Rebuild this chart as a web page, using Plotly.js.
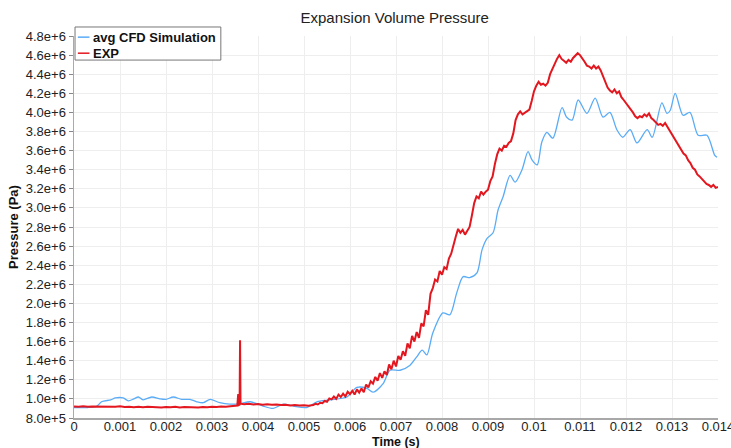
<!DOCTYPE html>
<html>
<head>
<meta charset="utf-8">
<script src="https://cdn.plot.ly/plotly-3.0.1.min.js"></script>
<style>html,body{margin:0;padding:0;background:#fff;}#chart{width:731px;height:448px;}</style>
</head>
<body>
<div id="chart"></div>
<script>
// ---- data ----
const expTime = [
0.0000,0.0001,0.0002,0.0003,0.0004,0.0005,0.0006,0.0007,0.0008,0.0009,
0.0010,0.0011,0.0012,0.0013,0.0014,0.0015,0.0016,0.0017,0.0018,0.0019,
0.0020,0.0021,0.0022,0.0023,0.0024,0.0025,0.0026,0.0027,0.0028,0.0029,
0.0030,0.0031,0.0032,0.0033,0.0034,0.0035,0.00355,0.00357,0.00358,0.0036,
0.00361,0.00362,0.0037,0.0038,0.0039,0.0040,0.0041,0.0042,0.0043,0.0044,
0.0045,0.0046,0.0047,0.0048,0.0049,0.0050,0.0051,
0.0052,0.00525,0.0053,0.00535,0.0054,0.00545,0.0055,0.00555,0.0056,0.00565,
0.0057,0.00575,0.0058,0.00585,0.0059,0.00595,0.0060,0.00605,0.0061,0.00615,
0.0062,0.00625,0.0063,0.00635,0.0064,0.00645,0.0065,0.00655,0.0066,0.00665,
0.0067,0.00675,0.0068,0.00685,0.0069,0.00695,0.0070,0.00705,0.0071,0.00715,
0.0072,0.00725,0.0073,0.00735,0.0074,0.00745,0.0075,0.00755,0.0076,0.00765,
0.0077,0.00775,0.0078,0.00785,0.0079,0.00795,0.0080,0.00805,0.0081,0.00815,
0.0082,0.00825,0.0083,0.00835,0.0084,0.00845,0.0085,0.00855,0.0086,0.00865,
0.0087,0.00875,0.0088,0.00885,0.0089,0.00895,0.0090,0.00905,0.0091,0.00915,
0.0092,0.00925,0.0093,0.00935,0.0094,0.00945,0.0095,0.00955,0.0096,0.00965,
0.0097,0.00975,0.0098,0.00985,0.0099,0.00995,0.0100,0.01005,0.0101,0.01015,
0.0102,0.01025,0.0103,0.01035,0.0104,0.01045,0.0105,0.01055,0.0106,0.01065,
0.0107,0.01075,0.0108,0.01085,0.0109,0.01095,0.0110,0.01105,0.0111,0.01115,
0.0112,0.01125,0.0113,0.01135,0.0114,0.01145,0.0115,0.01155,0.0116,0.01165,
0.0117,0.01175,0.0118,0.01185,0.0119,0.01195,0.0120,0.01205,0.0121,0.01215,
0.0122,0.01225,0.0123,0.01235,0.0124,0.01245,0.0125,0.01255,0.0126,0.01265,
0.0127,0.01275,0.0128,0.01285,0.0129,0.01295,0.0130,0.01305,0.0131,0.01315,
0.0132,0.01325,0.0133,0.01335,0.0134,0.01345,0.0135,0.01355,0.0136,0.01365,
0.0137,0.01375,0.0138,0.01385,0.0139,0.01395,0.0140
];
const expPressure = [
921000,918000,923000,917000,921000,919000,924000,916000,920000,918000,
922000,915000,919000,913000,918000,912000,917000,914000,919000,911000,
916000,913000,918000,910000,915000,912000,917000,911000,916000,913000,
919000,915000,920000,917000,923000,925000,930000,1050000,935000,940000,
1615000,950000,945000,948000,942000,946000,940000,943000,938000,941000,
935000,938000,932000,935000,930000,933000,929000,
935000,948000,942000,960000,955000,978000,970000,1005000,995000,1025000,
1000000,1045000,1020000,1055000,1025000,1075000,1050000,1085000,1045000,1100000,
1065000,1110000,1070000,1150000,1120000,1185000,1160000,1230000,1190000,1270000,
1220000,1290000,1250000,1360000,1310000,1400000,1340000,1450000,1410000,1500000,
1450000,1580000,1530000,1660000,1600000,1700000,1640000,1790000,1760000,1930000,
1880000,2100000,2160000,2250000,2230000,2340000,2300000,2380000,2360000,2470000,
2520000,2620000,2700000,2780000,2740000,2770000,2720000,2760000,2800000,2920000,
3050000,3120000,3100000,3170000,3140000,3170000,3190000,3280000,3330000,3460000,
3560000,3620000,3600000,3650000,3640000,3680000,3700000,3780000,3920000,3980000,
4010000,3980000,4000000,4020000,4030000,4120000,4220000,4280000,4320000,4290000,
4300000,4280000,4310000,4400000,4460000,4520000,4560000,4600000,4560000,4540000,
4520000,4550000,4530000,4570000,4590000,4620000,4600000,4570000,4530000,4490000,
4480000,4460000,4490000,4460000,4480000,4440000,4380000,4330000,4260000,4230000,
4210000,4240000,4200000,4220000,4160000,4130000,4100000,4070000,4030000,4000000,
3960000,3940000,3960000,3950000,3980000,3960000,3990000,3940000,3920000,3890000,
3870000,3880000,3860000,3890000,3850000,3820000,3770000,3740000,3690000,3650000,
3620000,3570000,3550000,3500000,3470000,3420000,3400000,3350000,3330000,3300000,
3270000,3250000,3240000,3220000,3240000,3210000,3220000
];

const cfdTime = [
0.0000,0.0003,0.0005,0.0006,0.0008,0.0009,0.00107,0.00118,0.0013,0.0014,
0.0015,0.00169,0.00187,0.0020,0.00216,0.00234,0.00252,0.00267,0.00281,0.00296,
0.00317,0.00339,0.0036,0.00383,0.00411,0.00433,0.00455,0.00477,0.00506,0.00528,
0.00557,0.00593,0.00615,0.00637,0.0065,0.00672,0.00687,0.00709,0.0073,0.00745,
0.00757,0.00767,0.0078,0.00802,0.00817,0.00832,0.00846,0.0086,0.00876,0.00887,
0.00898,0.00911,0.00922,0.00933,0.00948,0.00959,0.00974,0.00987,0.00996,0.01007,
0.01017,0.01028,0.01041,0.01061,0.01071,0.01083,0.01096,0.01115,0.01133,0.0115,
0.01165,0.0118,0.01193,0.01209,0.01224,0.01246,0.01257,0.01278,0.01289,0.01296,
0.01307,0.01324,0.01339,0.01357,0.01376,0.01393,0.01398
];
const cfdPressure = [
910000,910000,925000,970000,990000,1010000,1010000,980000,1000000,1020000,
990000,1020000,1000000,995000,1020000,995000,995000,970000,960000,995000,
960000,945000,950000,970000,925000,900000,945000,925000,910000,970000,
990000,1020000,1120000,1110000,1070000,1160000,1300000,1300000,1350000,1440000,
1510000,1460000,1690000,1900000,1880000,2110000,2280000,2270000,2320000,2560000,
2680000,2740000,2980000,3120000,3340000,3270000,3400000,3590000,3500000,3450000,
3690000,3790000,3730000,4050000,3950000,3920000,4130000,3990000,4150000,3950000,
4000000,3820000,3740000,3820000,3680000,3820000,3740000,4100000,3990000,4020000,
4200000,3970000,4000000,3760000,3760000,3550000,3530000
];

const seriesNames = ["avg CFD Simulation", "EXP"];
const xTickVals = [0,0.001,0.002,0.003,0.004,0.005,0.006,0.007,0.008,0.009,0.01,0.011,0.012,0.013,0.014];
const xTickText = ["0","0.001","0.002","0.003","0.004","0.005","0.006","0.007","0.008","0.009","0.01","0.011","0.012","0.013","0.014"];
const yTickVals = [800000,1000000,1200000,1400000,1600000,1800000,2000000,2200000,2400000,2600000,2800000,3000000,3200000,3400000,3600000,3800000,4000000,4200000,4400000,4600000,4800000];

// ---- styling ----
const BLUE = "#5aacf7";
const RED = "#e3171f";
const FONT = "Liberation Sans, Arial, sans-serif";

const traces = [
  {x: cfdTime, y: cfdPressure, name: seriesNames[0], type: "scatter", mode: "lines",
   line: {color: BLUE, width: 1.3, shape: "spline", smoothing: 0.8}, showlegend: false},
  {x: expTime, y: expPressure, name: seriesNames[1], type: "scatter", mode: "lines",
   line: {color: RED, width: 2}, showlegend: false}
];

const layout = {
  width: 731, height: 448,
  margin: {l: 74, r: 13, t: 36, b: 30, pad: 0},
  paper_bgcolor: "#ffffff", plot_bgcolor: "#ffffff",
  font: {family: FONT, size: 13, color: "#222"},
  title: {text: "Expansion Volume Pressure", font: {family: FONT, size: 15, color: "#222"},
          x: 0.54, xanchor: "center", y: 0.96, yanchor: "middle"},
  xaxis: {
    range: [0, 0.014], tickvals: xTickVals, ticktext: xTickText,
    showgrid: true, gridcolor: "#eeeeee", gridwidth: 1, zeroline: false,
    showline: true, linecolor: "#a8a8a8", linewidth: 2,
    ticks: "", ticklabeloverflow: "allow", ticklabelstandoff: -5,
    tickfont: {family: FONT, size: 13, color: "#222"},
    automargin: false
  },
  yaxis: {
    range: [800000, 4800000], tickvals: yTickVals, tickformat: ".1e",
    showgrid: true, gridcolor: "#eeeeee", gridwidth: 1, zeroline: false,
    showline: true, linecolor: "#8cc66b", linewidth: 1.5,
    ticks: "outside", ticklen: 4, tickcolor: "#888",
    tickfont: {family: FONT, size: 13, color: "#222"},
    title: {text: "<b>Pressure (Pa)</b>", font: {family: FONT, size: 13, color: "#111"}, standoff: 4},
    automargin: false
  },
  shapes: [
    {type: "rect", xref: "paper", yref: "paper", x0: 0.0016, x1: 0.228, y0: 0.937, y1: 1.0236,
     line: {color: "#777", width: 1}, fillcolor: "#ffffff", layer: "above"},
    {type: "line", xref: "paper", yref: "paper", x0: 0.006, x1: 0.024, y0: 0.997, y1: 0.997,
     line: {color: BLUE, width: 1.5}, layer: "above"},
    {type: "line", xref: "paper", yref: "paper", x0: 0.006, x1: 0.024, y0: 0.955, y1: 0.955,
     line: {color: RED, width: 1.5}, layer: "above"}
  ],
  annotations: [
    {text: "<b>" + seriesNames[0] + "</b>", xref: "paper", yref: "paper", x: 0.027, y: 0.997,
     xanchor: "left", yanchor: "middle", showarrow: false, font: {family: FONT, size: 13, color: "#111"}},
    {text: "<b>" + seriesNames[1] + "</b>", xref: "paper", yref: "paper", x: 0.027, y: 0.955,
     xanchor: "left", yanchor: "middle", showarrow: false, font: {family: FONT, size: 13, color: "#111"}},
    {text: "<b>Time (s)</b>", xref: "paper", yref: "paper", x: 0.5, y: -0.0628,
     xanchor: "center", yanchor: "middle", showarrow: false, borderpad: 0,
     font: {family: FONT, size: 12.5, color: "#111"}}
  ]
};

Plotly.newPlot("chart", traces, layout, {staticPlot: true, displayModeBar: false});
</script>
</body>
</html>
